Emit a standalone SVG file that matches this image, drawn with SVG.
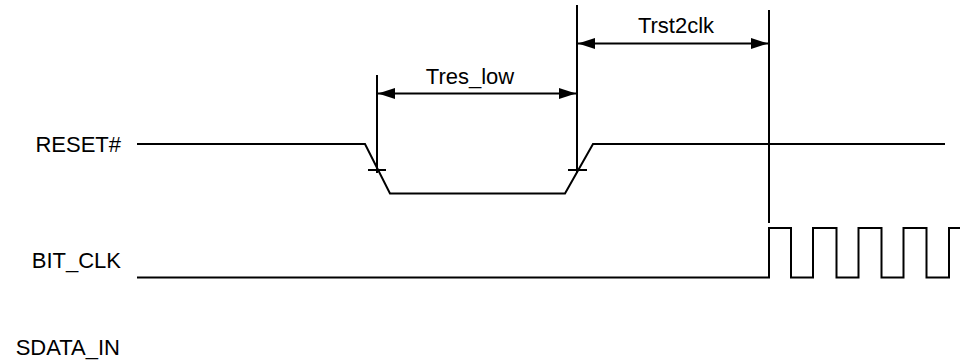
<svg xmlns="http://www.w3.org/2000/svg" width="960" height="364" viewBox="0 0 960 364">
<style>
.w{fill:none;stroke:#000;stroke-width:2}
.t{font-family:"Liberation Sans",Arial,sans-serif;font-size:22px;fill:#000}
</style>
<defs>
<marker id="ah" viewBox="0 0 17 11" refX="17" refY="5.5" markerWidth="17" markerHeight="11" markerUnits="userSpaceOnUse" orient="auto-start-reverse">
<path d="M0,0 L17,5.5 L0,11 z" fill="#000"/>
</marker>
</defs>
<rect width="960" height="364" fill="#fff"/>
<g id="label-reset"><text class="t" x="121" y="152" text-anchor="end">RESET#</text></g>
<g id="label-bitclk"><text class="t" x="121" y="268" text-anchor="end">BIT_CLK</text></g>
<g id="label-sdatain"><text class="t" x="120" y="355" text-anchor="end">SDATA_IN</text></g>
<g id="reset-wave"><path class="w" d="M137,144 H365 L390,193.5 H565 L593,144 H945"/></g>
<g id="bitclk-wave"><path class="w" d="M137,277.5 H769 V228 H791 V277.5 H813 V228 H836.5 V277.5 H858.5 V228 H881.5 V277.5 H903.5 V228 H926.5 V277.5 H949 V228 H960"/></g>
<g id="connectors">
<path class="w" d="M377,75 V173 M368,170 H386"/>
<path class="w" d="M577,5 V173 M568,170 H587"/>
<path class="w" d="M769,10 V223"/>
<path class="w" d="M378,93.5 H576" marker-start="url(#ah)" marker-end="url(#ah)"/>
<path class="w" d="M578,43.5 H768" marker-start="url(#ah)" marker-end="url(#ah)"/>
</g>
<g id="label-tres"><text class="t" x="470" y="84" text-anchor="middle">Tres_low</text></g>
<g id="label-trst"><text class="t" x="676" y="33" text-anchor="middle">Trst2clk</text></g>
</svg>
